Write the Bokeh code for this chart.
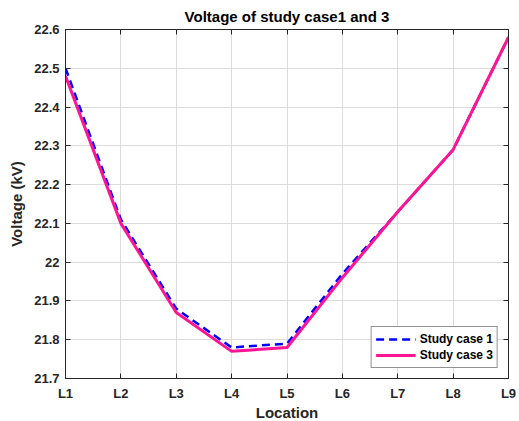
from bokeh.plotting import figure
from bokeh.models import (Range1d, FixedTicker, LinearAxis, CustomJSTickFormatter,
                          Legend, LegendItem)
from bokeh.embed import file_html
from bokeh.resources import INLINE

locations = ["L1", "L2", "L3", "L4", "L5", "L6", "L7", "L8", "L9"]
case1 = [22.50, 22.11, 21.88, 21.78, 21.79, 21.97, 22.13, 22.29, 22.58]
case3 = [22.48, 22.10, 21.87, 21.77, 21.78, 21.96, 22.13, 22.29, 22.58]
y_ticks = [21.7, 21.8, 21.9, 22.0, 22.1, 22.2, 22.3, 22.4, 22.5, 22.6]

x_pos = list(range(1, len(locations) + 1))

FONT = "Liberation Sans"
DARK = "#262626"

p = figure(frame_width=443, frame_height=349,
           min_border_left=65, min_border_top=29, min_border_right=11, min_border_bottom=42,
           x_range=Range1d(1, 9), y_range=Range1d(21.7, 22.6),
           output_backend="svg", toolbar_location=None,
           title="Voltage of study case1 and 3")

p.title.align = "center"
p.title.text_font = FONT
p.title.text_font_size = "15px"
p.title.text_font_style = "bold"
p.title.text_color = "#000000"

p.outline_line_color = DARK
p.background_fill_color = "white"
p.border_fill_color = "white"

xticker = FixedTicker(ticks=x_pos)
yticker = FixedTicker(ticks=y_ticks)

p.xaxis.ticker = xticker
p.xaxis.major_label_overrides = {i: lab for i, lab in zip(x_pos, locations)}
p.yaxis.ticker = yticker
p.yaxis.formatter = CustomJSTickFormatter(code="return (Math.round(tick*10)/10).toString();")

p.xaxis.axis_label = "Location"
p.yaxis.axis_label = "Voltage (kV)"

for ax in [p.xaxis[0], p.yaxis[0]]:
    ax.axis_line_color = DARK
    ax.major_tick_line_color = DARK
    ax.major_tick_in = 5
    ax.major_tick_out = 0
    ax.minor_tick_line_color = None
    ax.major_label_text_font = FONT
    ax.major_label_text_font_size = "13px"
    ax.major_label_text_font_style = "bold"
    ax.major_label_text_color = DARK
    ax.axis_label_text_font = FONT
    ax.axis_label_text_font_size = "15px"
    ax.axis_label_text_font_style = "bold"
    ax.axis_label_text_color = DARK

p.xaxis.major_label_standoff = 7
p.xaxis.axis_label_standoff = 0
p.yaxis.major_label_standoff = 6
p.yaxis.axis_label_standoff = 6

blank = CustomJSTickFormatter(code="return '';")
for loc, tk in [("right", yticker), ("above", xticker)]:
    ax = LinearAxis(ticker=tk, formatter=blank, axis_line_color=DARK, major_tick_line_color=DARK,
                    major_tick_in=5, major_tick_out=0, minor_tick_line_color=None,
                    major_label_standoff=0)
    p.add_layout(ax, loc)

p.grid.grid_line_color = "#dcdcdc"
p.grid.grid_line_width = 1
p.xgrid.ticker = xticker
p.ygrid.ticker = yticker

r1 = p.line(x_pos, case1, line_color="#0000FF", line_width=2.5, line_dash="8 5")
r3 = p.line(x_pos, case3, line_color="#FF1493", line_width=3)

legend = Legend(items=[LegendItem(label="Study case 1", renderers=[r1]),
                       LegendItem(label="Study case 3", renderers=[r3])],
                location="bottom_right")
legend.label_text_font = FONT
legend.label_text_font_size = "12px"
legend.label_text_font_style = "bold"
legend.label_text_color = "#000000"
legend.border_line_color = DARK
legend.border_line_width = 1
legend.glyph_width = 40
legend.glyph_height = 16
legend.label_height = 16
legend.spacing = 0
legend.padding = 4
legend.margin = 10
legend.label_standoff = 4
legend.background_fill_alpha = 1
p.add_layout(legend)

open("out.html", "w").write(file_html(p, INLINE))
